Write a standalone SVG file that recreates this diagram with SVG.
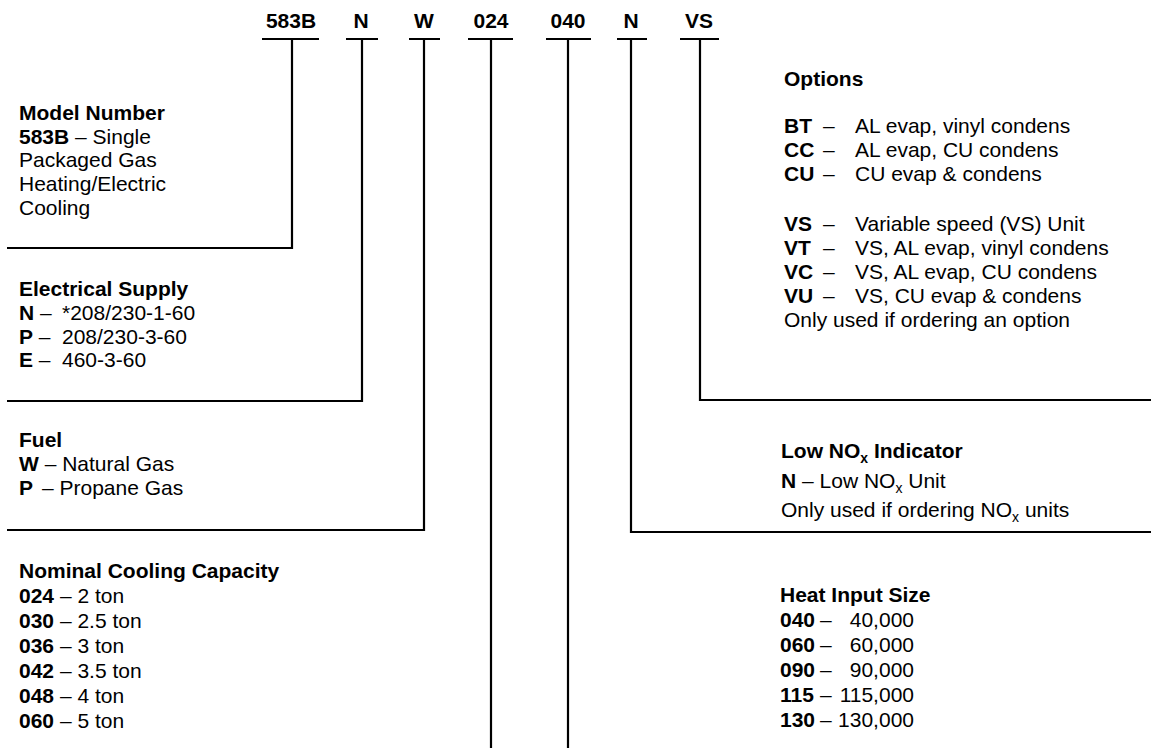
<svg xmlns="http://www.w3.org/2000/svg" width="1151" height="748" viewBox="0 0 1151 748">
<style>
text{font-family:"Liberation Sans",Arial,sans-serif;font-size:21px;fill:#000}
.b{font-weight:bold}
.hd{font-weight:bold;text-anchor:middle}
.ln{stroke:#000;stroke-width:2.2;fill:none}
.sub{font-size:14px}
</style>
<rect width="1151" height="748" fill="#fff"/>
<g id="header">
<text class="hd" x="291" y="28">583B</text>
<text class="hd" x="361" y="28">N</text>
<text class="hd" x="424" y="28">W</text>
<text class="hd" x="491" y="28">024</text>
<text class="hd" x="568" y="28">040</text>
<text class="hd" x="631" y="28">N</text>
<text class="hd" x="699" y="28">VS</text>
</g>
<g id="connectors">
<path class="ln" d="M262 39H319M346 39H378M409 39H440M468 39H513M546 39H591M617 39H647M680 39H719"/>
<path class="ln" d="M292 39V248H7"/>
<path class="ln" d="M362 39V401H7"/>
<path class="ln" d="M424 39V530H7"/>
<path class="ln" d="M491 39V748"/>
<path class="ln" d="M568 39V748"/>
<path class="ln" d="M631 39V532H1151"/>
<path class="ln" d="M700 39V400H1151"/>
</g>
<g id="model-number">
<text class="b" x="19" y="120">Model Number</text>
<text x="19" y="144"><tspan class="b">583B</tspan> – Single</text>
<text x="19" y="167">Packaged Gas</text>
<text x="19" y="191">Heating/Electric</text>
<text x="19" y="215">Cooling</text>
</g>
<g id="electrical-supply">
<text class="b" x="19" y="296">Electrical Supply</text>
<text x="19" y="320"><tspan class="b">N</tspan> –</text><text x="62" y="320">*208/230-1-60</text>
<text x="19" y="344"><tspan class="b">P</tspan> –</text><text x="62" y="344">208/230-3-60</text>
<text x="19" y="367"><tspan class="b">E</tspan> –</text><text x="62" y="367">460-3-60</text>
</g>
<g id="fuel">
<text class="b" x="19" y="447">Fuel</text>
<text x="19" y="471"><tspan class="b">W</tspan> – Natural Gas</text>
<text x="19" y="495"><tspan class="b">P</tspan></text><text x="42" y="495">– Propane Gas</text>
</g>
<g id="cooling-capacity">
<text class="b" x="19" y="578">Nominal Cooling Capacity</text>
<text x="19" y="603"><tspan class="b">024</tspan> – 2 ton</text>
<text x="19" y="628"><tspan class="b">030</tspan> – 2.5 ton</text>
<text x="19" y="653"><tspan class="b">036</tspan> – 3 ton</text>
<text x="19" y="678"><tspan class="b">042</tspan> – 3.5 ton</text>
<text x="19" y="703"><tspan class="b">048</tspan> – 4 ton</text>
<text x="19" y="728"><tspan class="b">060</tspan> – 5 ton</text>
</g>
<g id="options">
<text class="b" x="784" y="86">Options</text>
<text class="b" x="784" y="133">BT</text><text x="823" y="133">–</text><text x="855" y="133">AL evap, vinyl condens</text>
<text class="b" x="784" y="157">CC</text><text x="823" y="157">–</text><text x="855" y="157">AL evap, CU condens</text>
<text class="b" x="784" y="181">CU</text><text x="823" y="181">–</text><text x="855" y="181">CU evap &amp; condens</text>
<text class="b" x="784" y="231">VS</text><text x="823" y="231">–</text><text x="855" y="231">Variable speed (VS) Unit</text>
<text class="b" x="784" y="255">VT</text><text x="823" y="255">–</text><text x="855" y="255">VS, AL evap, vinyl condens</text>
<text class="b" x="784" y="279">VC</text><text x="823" y="279">–</text><text x="855" y="279">VS, AL evap, CU condens</text>
<text class="b" x="784" y="303">VU</text><text x="823" y="303">–</text><text x="855" y="303">VS, CU evap &amp; condens</text>
<text x="784" y="327">Only used if ordering an option</text>
</g>
<g id="low-nox">
<text class="b" x="781" y="458">Low NO<tspan class="sub" dy="5">x</tspan><tspan dy="-5"> Indicator</tspan></text>
<text x="781" y="488"><tspan class="b">N</tspan> – Low NO<tspan class="sub" dy="5">x</tspan><tspan dy="-5"> Unit</tspan></text>
<text x="781" y="517">Only used if ordering NO<tspan class="sub" dy="5">x</tspan><tspan dy="-5"> units</tspan></text>
</g>
<g id="heat-input">
<text class="b" x="780" y="602">Heat Input Size</text>
<text class="b" x="780" y="627">040</text><text x="820" y="627">–</text><text x="914" y="627" text-anchor="end">40,000</text>
<text class="b" x="780" y="652">060</text><text x="820" y="652">–</text><text x="914" y="652" text-anchor="end">60,000</text>
<text class="b" x="780" y="677">090</text><text x="820" y="677">–</text><text x="914" y="677" text-anchor="end">90,000</text>
<text class="b" x="780" y="702">115</text><text x="820" y="702">–</text><text x="914" y="702" text-anchor="end">115,000</text>
<text class="b" x="780" y="727">130</text><text x="820" y="727">–</text><text x="914" y="727" text-anchor="end">130,000</text>
</g>
</svg>
